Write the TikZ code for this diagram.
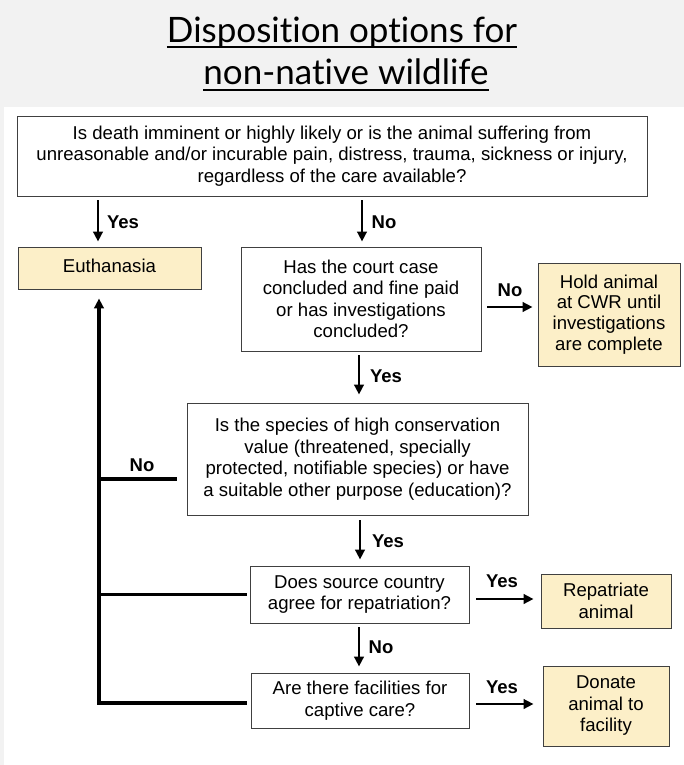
\documentclass[tikz,border=0pt]{standalone}
\usepackage{fontspec}
\setmainfont{Liberation Sans}
\newfontfamily\titlefont[Ligatures={NoCommon}]{Lato}
\usetikzlibrary{arrows.meta}
\definecolor{bggray}{HTML}{F2F2F2}
\definecolor{boxfill}{HTML}{FCEFC8}
\definecolor{boxline}{HTML}{404040}
\begin{document}
\begin{tikzpicture}[x=1pt,y=-1pt,
  qbox/.style={draw=boxline, line width=0.9pt, fill=white, align=center, inner sep=0pt, font=\fontsize{18.6}{21.5}\selectfont},
  abox/.style={qbox, fill=boxfill},
  arr/.style={line width=2.8pt, -{Triangle[length=10pt,width=9.5pt]}},
  trunk/.style={line width=3.2pt},
  lbl/.style={font=\bfseries\fontsize{18.5}{20}\selectfont, inner sep=0pt},
  ttl/.style={font=\titlefont\fontsize{35}{40}\selectfont, inner sep=0pt, anchor=base},
]
\useasboundingbox (0,0) rectangle (684,765);
\fill[bggray] (0,0) rectangle (684,765);
\fill[white] (4,107) rectangle (684,765);

% title
\node[ttl] (t1) at (342,43) {Disposition options for};
\node[ttl] (t2) at (346,85) {non-native wildlife};
\draw[line width=2pt] ([yshift=-4pt]t1.base west) -- ([yshift=-4pt]t1.base east);
\draw[line width=2pt] ([yshift=-5pt]t2.base west) -- ([yshift=-5pt]t2.base east);

% boxes
\node[qbox, minimum width=630pt, minimum height=80pt] (q1) at (332,156)
  {Is death imminent or highly likely or is the animal suffering from\\unreasonable and/or incurable pain, distress, trauma, sickness or injury,\\regardless of the care available?};
\node[abox, minimum width=183pt, minimum height=42pt, text depth=5pt] (eu) at (109.5,268) {Euthanasia};
\node[qbox, minimum width=240pt, minimum height=104pt] (court) at (361,299)
  {Has the court case\\concluded and fine paid\\or has investigations\\concluded?};
\node[abox, minimum width=142pt, minimum height=103pt, font=\fontsize{18.6}{20.7}\selectfont] (hold) at (609,314.5)
  {Hold animal\\at CWR until\\investigations\\are complete};
\node[qbox, minimum width=341pt, minimum height=112pt] (spec) at (357.5,459)
  {Is the species of high conservation\\value (threatened, specially\\protected, notifiable species) or have\\a suitable other purpose (education)?};
\node[qbox, minimum width=219pt, minimum height=57pt] (src) at (359.5,594.5)
  {Does source country\\agree for repatriation?};
\node[qbox, minimum width=218pt, minimum height=55pt] (fac) at (360,700.5)
  {Are there facilities for\\captive care?};
\node[abox, minimum width=130pt, minimum height=54pt] (rep) at (606,601)
  {Repatriate\\animal};
\node[abox, minimum width=126pt, minimum height=80pt] (don) at (606,706)
  {Donate\\animal to\\facility};

% helper coordinates
\coordinate (xL) at (98,0);
\coordinate (xN) at (362,0);
\coordinate (xY1) at (359,0);
\coordinate (xY2) at (360,0);
\coordinate (xN2) at (359,0);
\coordinate (yN) at (0,307);
\coordinate (yR) at (0,599);
\coordinate (yD) at (0,704);
\coordinate (yS) at (0,479);
\coordinate (tb) at (99,703);

% vertical arrows
\draw[arr] ([yshift=-4pt]q1.south -| xL) -- ([yshift=5pt]eu.north -| xL);
\draw[arr] ([yshift=-4pt]q1.south -| xN) -- ([yshift=5pt]court.north -| xN);
\draw[arr] ([yshift=-4pt]court.south -| xY1) -- ([yshift=8pt]spec.north -| xY1);
\draw[arr] ([yshift=-5pt]spec.south -| xY2) -- ([yshift=6pt]src.north -| xY2);
\draw[arr] ([yshift=-4pt]src.south -| xN2) -- ([yshift=6pt]fac.north -| xN2);

% horizontal arrows
\draw[arr] ([xshift=6pt]court.east |- yN) -- ([xshift=-5pt]hold.west |- yN);
\draw[arr] ([xshift=7pt]src.east |- yR) -- ([xshift=-7pt]rep.west |- yR);
\draw[arr] ([xshift=7pt]fac.east |- yD) -- ([xshift=-9pt]don.west |- yD);

% trunk back to euthanasia
\draw[arr, line width=3.2pt] ([xshift=-4pt]fac.west |- tb) -- (tb) -- ([yshift=-9pt]eu.south -| tb);
\draw[trunk] (src.west -| tb) -- ([xshift=-3pt]src.west);
\draw[trunk] (tb |- yS) -- ([xshift=-10pt]spec.west |- yS);

% labels
\node[lbl] (l1) at (123,222) {Yes};
\node[lbl] (l2) at (384,222) {No};
\node[lbl] (l3) at (510,290) {No};
\node[lbl] (l4) at (386,376) {Yes};
\node[lbl] (l5) at (142,465) {No};
\node[lbl] (l6) at (388,541) {Yes};
\node[lbl] (l7) at (502,581) {Yes};
\node[lbl] (l8) at (381,647) {No};
\node[lbl] (l9) at (502,687) {Yes};
\end{tikzpicture}
\end{document}
